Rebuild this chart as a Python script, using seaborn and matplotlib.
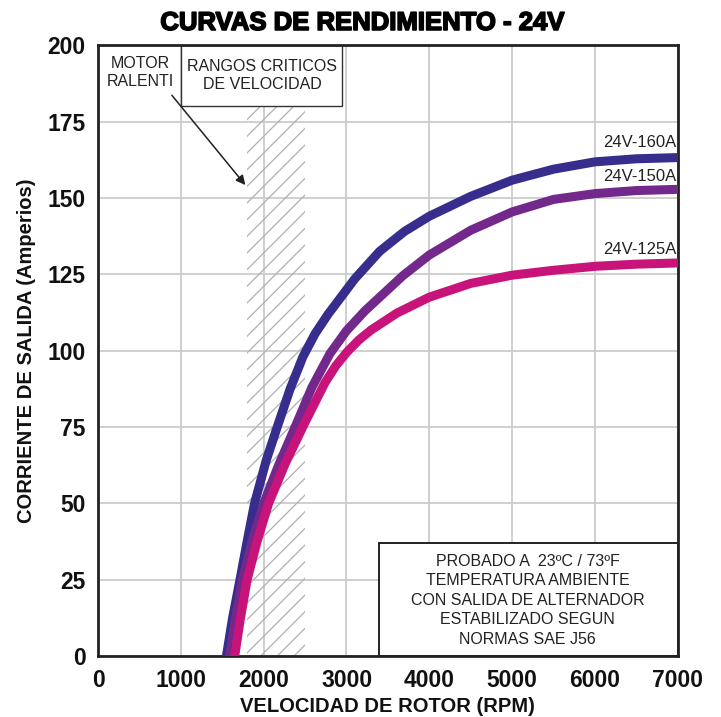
import numpy as np
import pandas as pd
import matplotlib
matplotlib.use("Agg")
import matplotlib.pyplot as plt
import matplotlib.patheffects as pe
import seaborn as sns
from matplotlib.patches import Rectangle

# values
rpm_160 = [1550, 1625, 1714, 1800, 1890, 2030, 2170, 2320, 2474, 2620, 2780, 3100, 3400, 3700,
           4000, 4500, 5000, 5500, 6000, 6500, 7000]
amp_160 = [0, 12.5, 25, 37.5, 50, 64, 75.5, 87.5, 98, 105.5, 112, 123.5, 132.5, 139,
           144, 150.5, 155.8, 159.4, 161.8, 162.8, 163.2]
rpm_150 = [1590, 1660, 1745, 1860, 2000, 2180, 2380, 2583, 2800, 3000, 3222, 3680,
           4000, 4500, 5000, 5500, 6000, 6500, 7000]
amp_150 = [0, 12.5, 25, 37.5, 50, 62.5, 75, 88, 99, 106.5, 113, 124.5,
           131.3, 139.4, 145.4, 149.5, 151.4, 152.4, 152.8]
rpm_125 = [1650, 1720, 1800, 1920, 2060, 2260, 2490, 2740, 2870, 3005, 3150, 3300, 3610,
           4000, 4500, 5000, 5500, 6000, 6500, 7000]
amp_125 = [0, 12.5, 25, 37.5, 50, 63, 76, 89.5, 95, 99.5, 103.5, 106.8, 112.3,
           117.5, 122, 124.7, 126.3, 127.6, 128.3, 128.7]
series = ["24V-160A", "24V-150A", "24V-125A"]
colores = ["#372d8c", "#73288c", "#c8147a"]
label_y = [168, 157, 133]

x_ticks = list(range(0, 7001, 1000))
y_ticks = list(range(0, 201, 25))
zona_critica = (1800, 2500)

df = pd.concat([
    pd.DataFrame({"rpm": rpm_160, "amp": amp_160, "modelo": series[0]}),
    pd.DataFrame({"rpm": rpm_150, "amp": amp_150, "modelo": series[1]}),
    pd.DataFrame({"rpm": rpm_125, "amp": amp_125, "modelo": series[2]}),
])

sns.set_style("white")
plt.rcParams['font.family'] = ['Liberation Sans', 'DejaVu Sans']
plt.rcParams['hatch.color'] = '#b0b0b0'
plt.rcParams['hatch.linewidth'] = 0.9

fig = plt.figure(figsize=(7.21, 7.17), dpi=100)
ax = fig.add_axes([0.136, 0.085, 0.804, 0.852])

ax.set_xlim(0, 7000)
ax.set_ylim(0, 200)
ax.set_xticks(x_ticks)
ax.set_yticks(y_ticks)
ax.grid(True, color='#cccccc', linewidth=1.3, zorder=0)
ax.set_axisbelow(True)

# hatched critical speed range
ax.add_patch(Rectangle((zona_critica[0], 0), zona_critica[1] - zona_critica[0], 180,
                       facecolor='none', edgecolor='#b0b0b0', hatch='//', linewidth=0, zorder=1))

# top boxes
ax.add_patch(Rectangle((1000, 180), 1950, 20, facecolor='white', edgecolor='#333333',
                       linewidth=1.0, zorder=2))
ax.text(507, 191, "MOTOR\nRALENTI", ha='center', va='center', fontsize=11.5,
        color='#222222', linespacing=1.25, zorder=3)
ax.text(1980, 190, "RANGOS CRITICOS\nDE VELOCIDAD", ha='center', va='center', fontsize=11.5,
        color='#222222', linespacing=1.25, zorder=3)
ax.annotate("", xy=(1800, 153.5), xytext=(870, 184.3),
            arrowprops=dict(arrowstyle='-|>', color='#222222', lw=1.1, mutation_scale=14), zorder=3)

# bottom note box
ax.add_patch(Rectangle((3390, 0), 3610, 37, facecolor='white', edgecolor='#222222',
                       linewidth=1.4, zorder=2))
ax.text(5190, 18.3, "PROBADO A  23ºC / 73ºF\nTEMPERATURA AMBIENTE\nCON SALIDA DE ALTERNADOR\n"
        "ESTABILIZADO SEGUN\nNORMAS SAE J56", ha='center', va='center', fontsize=11.5,
        color='#222222', linespacing=1.37, zorder=3)

sns.lineplot(data=df, x="rpm", y="amp", hue="modelo", hue_order=series, palette=colores,
             linewidth=6.5, legend=False, ax=ax, zorder=4, solid_capstyle='round',
             solid_joinstyle='round', sort=False)

for name, yy in zip(series, label_y):
    ax.text(6980, yy, name, ha='right', va='center', fontsize=12, color='#222222', zorder=5)

for s in ax.spines.values():
    s.set_visible(True)
    s.set_color('#222222')
    s.set_linewidth(2)

ax.tick_params(axis='both', direction='out', length=5, width=1, color='#999999',
               labelsize=16.5, pad=4)
for lab in ax.get_xticklabels() + ax.get_yticklabels():
    lab.set_fontweight('bold')
    lab.set_color('#111111')

ax.set_xlabel("VELOCIDAD DE ROTOR (RPM)", fontsize=14.5, fontweight='bold', color='#111111', labelpad=4)
ax.set_ylabel("CORRIENTE DE SALIDA (Amperios)", fontsize=14.5, fontweight='bold', color='#111111', labelpad=8)
fig.text(0.503, 0.968, "CURVAS DE RENDIMIENTO - 24V", ha='center', va='center', fontsize=18.5,
         fontweight='bold', color='black',
         path_effects=[pe.withStroke(linewidth=1.2, foreground='black')])

fig.savefig("out.png", dpi=100)
